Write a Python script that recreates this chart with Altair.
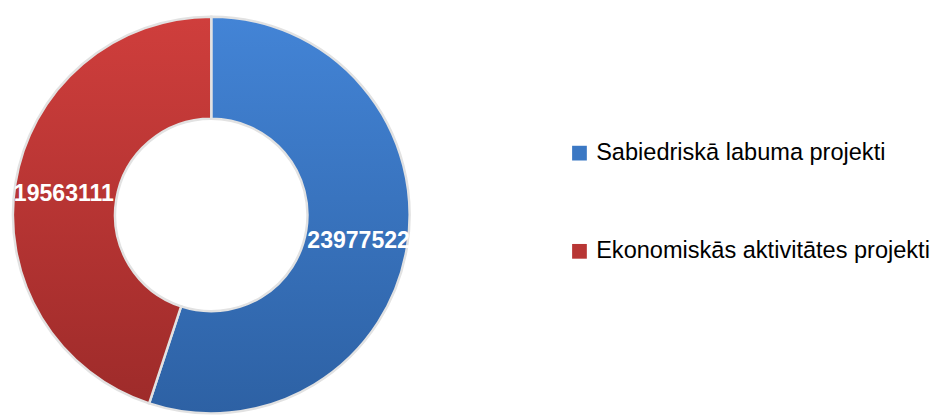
import altair as alt
import pandas as pd

categories = ["Sabiedriskā labuma projekti", "Ekonomiskās aktivitātes projekti"]
values = [23977522, 19563111]
order = [1, 2]
colors = ["#3b78c4", "#b83634"]

df = pd.DataFrame({"cat": categories, "value": values, "ord": order})

base = alt.Chart(df).transform_joinaggregate(
    total="sum(value)"
).transform_window(
    cum="sum(value)", sort=[alt.SortField("ord")]
).transform_calculate(
    t0="(datum.cum - datum.value) / datum.total * 2 * PI",
    t1="datum.cum / datum.total * 2 * PI",
    tm="(datum.cum - datum.value / 2) / datum.total * 2 * PI",
)

R_OUT = 202
R_IN = 98

legend_layer = base.mark_arc(outerRadius=R_OUT, innerRadius=R_IN).encode(
    theta=alt.Theta("t0:Q", scale=None),
    theta2="t1:Q",
    color=alt.Color(
        "cat:N",
        scale=alt.Scale(domain=categories, range=colors),
        legend=alt.Legend(
            title=None,
            orient="none",
            legendX=567,
            legendY=129,
            symbolType="square",
            symbolSize=225,
            symbolStrokeWidth=0,
            labelFont="Liberation Sans, Arial, sans-serif",
            labelFontSize=24,
            labelColor="#000000",
            labelOffset=5,
            rowPadding=76,
            padding=0,
            labelLimit=400,
        ),
    ),
)

blue_layer = base.transform_filter(alt.datum.ord == 1).mark_arc(
    outerRadius=R_OUT,
    innerRadius=R_IN,
    stroke="#e2e2e2",
    strokeWidth=2.5,
    fill=alt.Gradient(
        gradient="linear",
        stops=[
            alt.GradientStop(color="#4384d6", offset=0),
            alt.GradientStop(color="#2d61a4", offset=1),
        ],
        x1=0, x2=0, y1=0, y2=1,
    ),
).encode(theta=alt.Theta("t0:Q", scale=None), theta2="t1:Q")

red_layer = base.transform_filter(alt.datum.ord == 2).mark_arc(
    outerRadius=R_OUT,
    innerRadius=R_IN,
    stroke="#e2e2e2",
    strokeWidth=2.5,
    fill=alt.Gradient(
        gradient="linear",
        stops=[
            alt.GradientStop(color="#cf3e3c", offset=0),
            alt.GradientStop(color="#9e2b2a", offset=1),
        ],
        x1=0, x2=0, y1=0, y2=1,
    ),
).encode(theta=alt.Theta("t0:Q", scale=None), theta2="t1:Q")

labels = base.mark_text(
    font="Liberation Sans, Arial, sans-serif",
    fontSize=23.5,
    fontWeight="bold",
    color="white",
    dy=3,
).encode(
    theta=alt.Theta("tm:Q", scale=None),
    radius=alt.value(152),
    text=alt.Text("value:Q", format="d"),
)

chart = alt.layer(legend_layer, blue_layer, red_layer, labels).properties(
    width=408, height=408, padding=0
).configure_view(stroke=None)

chart.save("out.html", embed_options={"renderer": "svg", "actions": False})
